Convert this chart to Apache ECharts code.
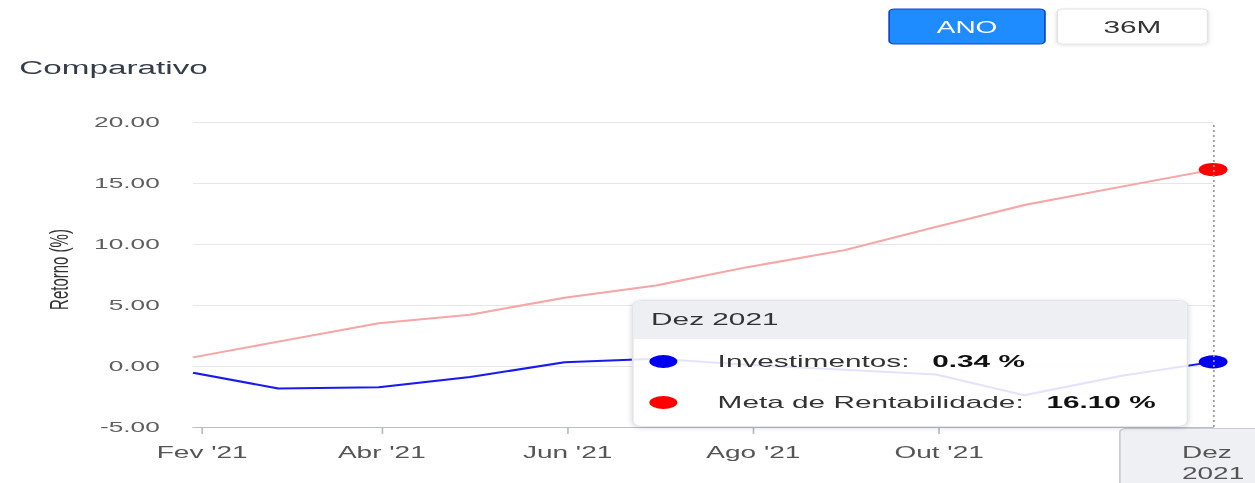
<!DOCTYPE html>
<html><head><meta charset="utf-8">
<script src="https://cdn.jsdelivr.net/npm/echarts@6/dist/echarts.min.js"></script>
<style>
html,body{margin:0;padding:0;overflow:hidden;background:#fff;width:1255px;height:483px;}
#wrap{position:absolute;left:0;top:0;width:760px;height:483px;transform:scaleX(1.7503);transform-origin:0 0;}
#chart{width:760px;height:483px;}
</style></head><body>
<div id="wrap"><div id="chart"></div></div>
<script>
// ---- data ----
const dates = ['2021-01-29','2021-02-26','2021-03-31','2021-04-30','2021-05-31','2021-06-30',
               '2021-07-30','2021-08-31','2021-09-30','2021-10-29','2021-11-30','2021-12-30'];
const investimentos = [-0.55, -1.85, -1.75, -0.90, 0.30, 0.60, 0.10, -0.30, -0.70, -2.40, -0.80, 0.34];
const metaRentabilidade = [0.71, 2.00, 3.50, 4.20, 5.60, 6.60, 8.10, 9.50, 11.40, 13.20, 14.70, 16.10];
const xTickDates = ['2021-02-01','2021-04-01','2021-06-01','2021-08-01','2021-10-01'];
const monthNames = ['Jan','Fev','Mar','Abr','Mai','Jun','Jul','Ago','Set','Out','Nov','Dez'];
const seriesNames = ['Investimentos','Meta de Rentabilidade'];
const buttonLabels = ['ANO','36M'];
const titleText = 'Comparativo';
const yAxisName = 'Retorno (%)';

const FONT = "'Liberation Sans', Arial, sans-serif";
const ts = dates.map(d => Date.parse(d + 'T00:00:00Z'));
const xTickTs = xTickDates.map(d => Date.parse(d + 'T00:00:00Z'));
const last = dates.length - 1;
const lastSize = (v, p) => (p.dataIndex === last ? [15, 12] : 0);

const chart = echarts.init(document.getElementById('chart'), null, {renderer: 'svg'});
chart.setOption({
  animation: false,
  textStyle: {fontFamily: FONT},
  title: {text: titleText, left: 6, top: 53,
    textStyle: {fontSize: 19, fontWeight: 'normal', color: '#333d47', fontFamily: FONT}},
  grid: {left: 110.3, right: 66.9, top: 122, bottom: 56},
  graphic: [
    {type: 'rect', shape: {x: 508, y: 9, width: 89, height: 35, r: 3},
      style: {fill: '#1e8bff', stroke: '#1446c8', lineWidth: 1}},
    {type: 'text', x: 552.5, y: 27, style: {text: buttonLabels[0], fill: '#ffffff',
      fontSize: 16, fontFamily: FONT, align: 'center', verticalAlign: 'middle'}},
    {type: 'rect', shape: {x: 604, y: 9, width: 86, height: 35, r: 3},
      style: {fill: '#ffffff', stroke: '#e4e4e4', lineWidth: 1,
        shadowBlur: 3, shadowColor: 'rgba(0,0,0,0.12)', shadowOffsetY: 1}},
    {type: 'text', x: 647, y: 27, style: {text: buttonLabels[1], fill: '#333333',
      fontSize: 17, fontFamily: FONT, align: 'center', verticalAlign: 'middle'}}
  ],
  axisPointer: {snap: true},
  tooltip: {
    trigger: 'axis', triggerOn: 'none', alwaysShowContent: true,
    position: [361, 300], padding: 0, transitionDuration: 0,
    backgroundColor: 'rgba(255,255,255,0.88)', borderColor: '#e2e4e8', borderWidth: 1,
    extraCssText: 'border-radius:6px;box-shadow:0 1px 4px rgba(0,0,0,0.14);width:316px;overflow:hidden;',
    axisPointer: {
      type: 'line', snap: true,
      lineStyle: {color: '#9a9a9a', width: 1, type: [2, 3]},
      label: {
        show: true, margin: 2,
        formatter: p => { const d = new Date(p.value); return monthNames[d.getUTCMonth()] + '\n' + d.getUTCFullYear(); },
        backgroundColor: '#eef0f3', borderColor: '#c9cdd3', borderWidth: 1,
        color: '#555', fontSize: 16, lineHeight: 21, fontFamily: FONT,
        padding: [13, 35, 10, 35]
      }
    },
    formatter: params => {
      const i = params[0].dataIndex;
      const d = new Date(ts[i]);
      let h = '<div style="font-family:Liberation Sans,Arial,sans-serif;color:#333;">' +
        '<div style="background:rgba(236,238,241,0.95);height:38px;line-height:38px;padding-left:10px;font-size:17px;color:#333;">' +
        monthNames[d.getUTCMonth()] + ' ' + d.getUTCFullYear() + '</div><div style="padding:2px 0 3px 9px;">';
      params.forEach(p => {
        h += '<div style="height:41px;line-height:41px;font-size:17px;white-space:nowrap;">' +
          '<span style="display:inline-block;width:16px;height:13px;border-radius:50%;background:' + p.color +
          ';vertical-align:middle;margin-right:23px;position:relative;top:-1px;"></span>' +
          '<span style="color:#333;">' + p.seriesName + ':</span>' +
          '<span style="margin-left:13px;font-weight:bold;color:#111;">' + p.value[1].toFixed(2) + ' %</span></div>';
      });
      return h + '</div></div>';
    }
  },
  xAxis: {
    type: 'value', min: ts[0], max: ts[last], scale: true,
    axisLine: {onZero: false, lineStyle: {color: '#b8bec8', width: 1}},
    axisTick: {show: true, customValues: xTickTs, length: 7, lineStyle: {color: '#b8bec8'}},
    axisLabel: {customValues: xTickTs, fontSize: 16, color: '#555', margin: 17, fontFamily: FONT,
      formatter: v => { const d = new Date(v); return monthNames[d.getUTCMonth()] + " '" + String(d.getUTCFullYear()).slice(2); }},
    splitLine: {show: false}
  },
  yAxis: {
    type: 'value', min: -5, max: 20, interval: 5,
    name: yAxisName, nameLocation: 'middle', nameGap: 69,
    nameTextStyle: {fontSize: 15, color: '#333', fontFamily: FONT, padding: [0, 0, 0, 10]},
    axisLine: {show: false}, axisTick: {show: false},
    axisLabel: {formatter: v => v.toFixed(2), fontSize: 15, color: '#5f5f5f', margin: 19, fontFamily: FONT},
    splitLine: {lineStyle: {color: '#e6e6e6', width: 1}}
  },
  series: [
    {name: seriesNames[0], type: 'line', data: ts.map((t, i) => [t, investimentos[i]]),
      symbol: 'circle', showSymbol: true, symbolSize: lastSize,
      lineStyle: {color: '#1a1aee', width: 2}, itemStyle: {color: '#0000ee'},
      emphasis: {disabled: true}, z: 3},
    {name: seriesNames[1], type: 'line', data: ts.map((t, i) => [t, metaRentabilidade[i]]),
      symbol: 'circle', showSymbol: true, symbolSize: lastSize,
      lineStyle: {color: '#f6a6a6', width: 2}, itemStyle: {color: '#ff0000'},
      emphasis: {disabled: true}, z: 2}
  ]
});
function showLast() {
  const px = chart.convertToPixel({seriesIndex: 0}, [ts[last], investimentos[last]]);
  chart.dispatchAction({type: 'showTip', x: px[0] - 1, y: px[1]});
}
showLast();
setTimeout(showLast, 50);
</script>
</body></html>
